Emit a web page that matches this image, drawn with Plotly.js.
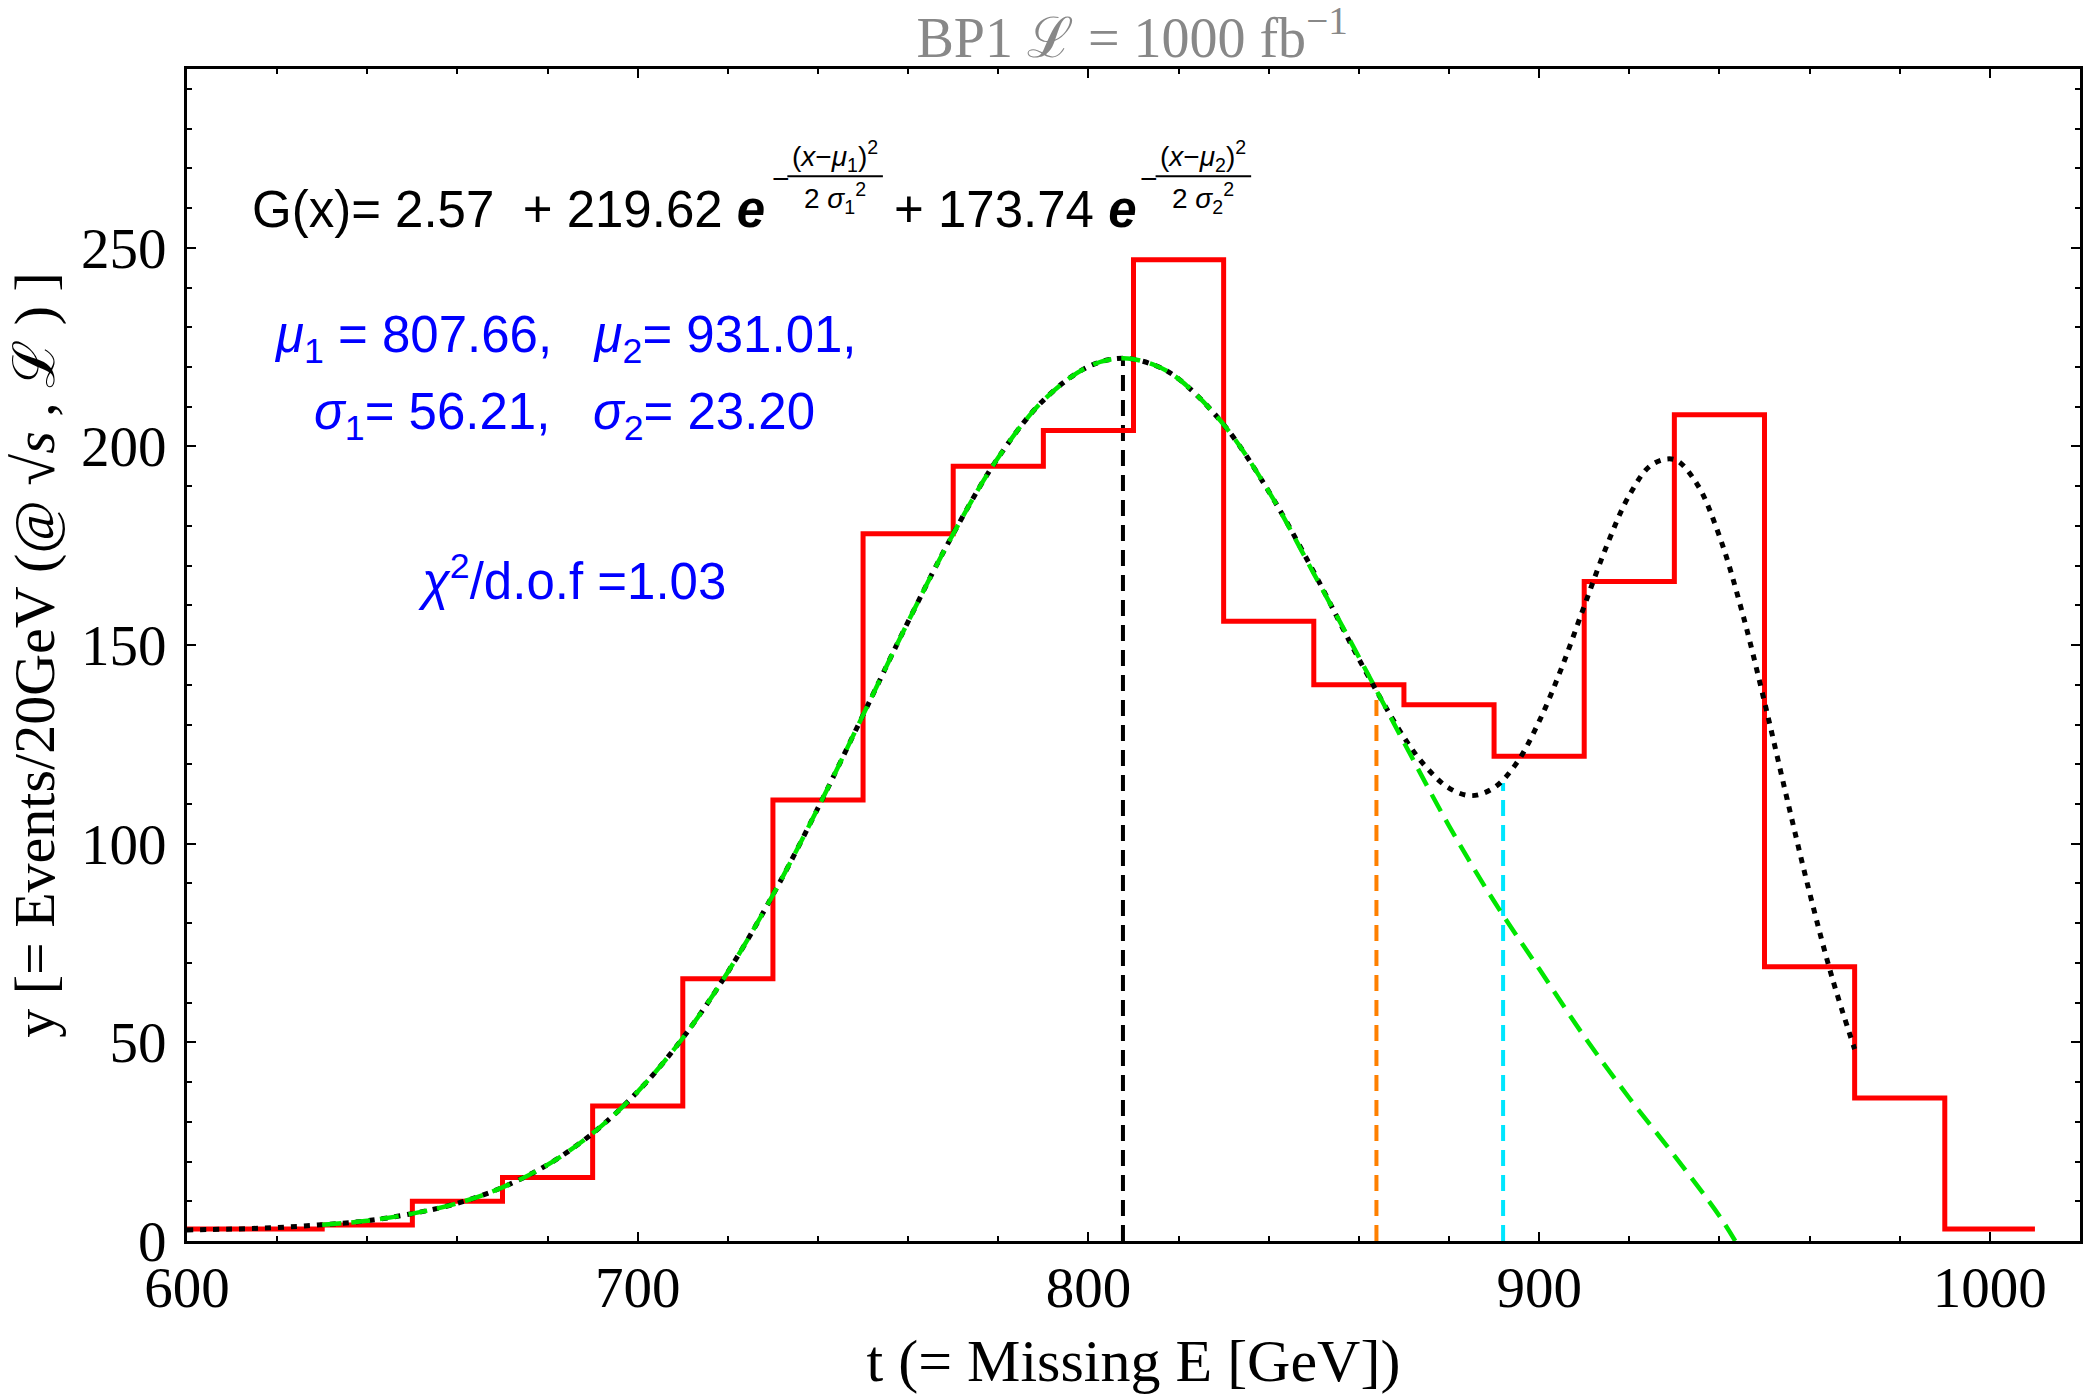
<!DOCTYPE html>
<html>
<head>
<meta charset="utf-8">
<script src="https://cdn.plot.ly/plotly-3.0.1.min.js"></script>
<style>
  body { margin: 0; background: #fff; }
  #plot { width: 2083px; height: 1394px; }
</style>
</head>
<body>
<div id="plot"></div>
<script>
// histogram: 20 GeV bins (edges) and event counts
var binEdges = [590, 610, 630, 650, 670, 690, 710, 730, 750, 770, 790, 810, 830, 850, 870, 890, 910, 930, 950, 970, 990, 1010];
var counts = [3, 3, 4, 10, 16, 34, 66, 111, 178, 195, 204, 247, 156, 140, 135, 122, 166, 208, 69, 36, 3];

// total fit G(x)
var fitX = [600, 610, 620, 630, 640, 650, 660, 670, 680, 690, 700, 710, 720, 730, 740, 750, 760, 770, 780, 790, 800, 807.66, 815, 820, 830, 840, 850, 860, 870, 875, 880, 885, 890, 895, 900, 905, 910, 915, 920, 925, 930, 935, 940, 945, 950, 955, 960, 965, 970];
var fitY = [2.8, 3.0, 3.4, 4.1, 5.1, 6.9, 9.5, 13.5, 19.2, 27.1, 37.6, 51.1, 67.7, 87.1, 109, 132.4, 155.9, 178, 197.2, 211.6, 220.1, 222.2, 220.3, 217, 205.5, 188.7, 168.4, 146.5, 126.8, 119.2, 114, 112.1, 114.1, 120.3, 130.8, 144.3, 159.8, 175, 187.7, 195.4, 196.7, 190.6, 177.4, 158.5, 135.7, 111.3, 87.7, 66.3, 48.3];

// first peak component
var peakX = [630, 640, 650, 660, 670, 680, 690, 700, 710, 720, 730, 740, 750, 760, 770, 780, 790, 800, 807.66, 815, 820, 830, 840, 850, 860, 870, 880, 890, 900, 910, 920, 930, 940, 943.5];
var peakY = [4.1, 5.1, 6.9, 9.5, 13.5, 19.2, 27.1, 37.6, 51.1, 67.7, 87.1, 109, 132.4, 155.9, 178, 197.2, 211.6, 220.1, 222.2, 220.3, 217, 205.5, 188.7, 168, 147, 125.5, 104.5, 85.5, 68.5, 51.5, 36, 21.5, 6.3, 0];

// vertical markers: position and height
var markX = [807.66, 863.9, 892.0];
var markTop = [222.2, 138.5, 115.3];
var markColor = ['black', 'rgb(255,128,0)', 'rgb(0,230,255)'];

var xTicks = [600, 700, 800, 900, 1000];
var yTicks = [0, 50, 100, 150, 200, 250];

// step line needs the last count repeated at the final edge
var stepY = counts.concat([counts[counts.length - 1]]);

var traces = [];
for (var i = 0; i < markX.length; i++) {
  traces.push({
    x: [markX[i], markX[i]], y: [0, markTop[i]], mode: 'lines',
    line: {color: markColor[i], width: 4, dash: '16px,9px'}, hoverinfo: 'skip'
  });
}
traces.push({
  x: binEdges, y: stepY, mode: 'lines',
  line: {shape: 'hv', color: 'rgb(255,0,0)', width: 5}
});
traces.push({
  x: fitX, y: fitY, mode: 'lines',
  line: {shape: 'spline', color: 'black', width: 5, dash: '6px,7px'}
});
traces.push({
  x: peakX, y: peakY, mode: 'lines',
  line: {shape: 'spline', color: 'rgb(0,230,0)', width: 4.5, dash: '19px,10px'}
});

var sans = 'Liberation Sans, Arial, sans-serif';
var serif = 'Liberation Serif, Times New Roman, serif';
var blue = 'rgb(0,0,255)';

function note(x, y, text, size, color, xa) {
  return {x: x, y: y, xref: 'x', yref: 'y', text: text, showarrow: false,
          xanchor: xa || 'left', yanchor: 'middle',
          font: {family: sans, size: size, color: color || 'black'}};
}

var annotations = [
  note(613.9, 259.6, 'G(x)= 2.57  + 219.62 <b><i>e</i></b>', 51),
  note(729.4, 267.5, '−', 30),
  note(743.8, 273, '(<i>x</i>−<i>μ</i><sub>1</sub>)<sup>2</sup>', 28, 'black', 'center'),
  note(743.8, 262.5, '2 <i>σ</i><sub>1</sub><sup>2</sup>', 28, 'black', 'center'),
  note(756.5, 259.6, '+ 173.74 <b><i>e</i></b>', 51),
  note(811.0, 267.5, '−', 30),
  note(825.5, 273, '(<i>x</i>−<i>μ</i><sub>2</sub>)<sup>2</sup>', 28, 'black', 'center'),
  note(825.5, 262.5, '2 <i>σ</i><sub>2</sub><sup>2</sup>', 28, 'black', 'center'),
  note(618.9, 227.2, '<i>μ</i><sub>1</sub> = 807.66,   <i>μ</i><sub>2</sub>= 931.01,', 51, blue),
  note(627.7, 207.8, '<i>σ</i><sub>1</sub>= 56.21,   <i>σ</i><sub>2</sub>= 23.20', 51, blue),
  note(650.7, 166.9, '<i>χ</i><sup>2</sup>/d.o.f =1.03', 51, blue)
];

var shapes = [
  {type: 'line', xref: 'x', yref: 'y', x0: 733.2, x1: 754.4, y0: 268, y1: 268, line: {color: 'black', width: 2}},
  {type: 'line', xref: 'x', yref: 'y', x0: 814.9, x1: 836.1, y0: 268, y1: 268, line: {color: 'black', width: 2}}
];

var axisCommon = {
  showgrid: false, zeroline: false, showline: true, linecolor: 'black', linewidth: 3,
  mirror: 'ticks', ticks: 'inside', ticklen: 9, tickwidth: 2, tickcolor: 'black',
  tickfont: {family: serif, size: 57, color: 'black'}
};

var layout = {
  width: 2083, height: 1394,
  margin: {l: 187, r: 3, t: 69, b: 153},
  paper_bgcolor: 'white', plot_bgcolor: 'white',
  showlegend: false,
  title: {
    text: 'BP1 ℒ = 1000 fb<sup>−1</sup>',
    font: {family: serif, size: 56, color: 'rgb(136,136,136)'},
    x: 0.5435, xanchor: 'center', y: 0.973, yanchor: 'middle', yref: 'container'
  },
  xaxis: Object.assign({}, axisCommon, {
    range: [600, 1020], tickvals: xTicks,
    minor: {dtick: 20, ticks: 'inside', ticklen: 5, tickwidth: 2, tickcolor: 'black'},
    ticklabelstandoff: -5,
    title: {text: 't (= Missing E [GeV])', font: {family: serif, size: 60, color: 'black'}, standoff: 22}
  }),
  yaxis: Object.assign({}, axisCommon, {
    range: [0, 295], tickvals: yTicks,
    minor: {dtick: 10, ticks: 'inside', ticklen: 5, tickwidth: 2, tickcolor: 'black'},
    ticklabelstandoff: 6,
    title: {text: 'y [= Events/20GeV (@ √<i>s</i> , ℒ ) ]', font: {family: serif, size: 58, color: 'black'}, standoff: 8}
  }),
  annotations: annotations,
  shapes: shapes
};

Plotly.newPlot('plot', traces, layout, {staticPlot: true});
</script>
</body>
</html>
